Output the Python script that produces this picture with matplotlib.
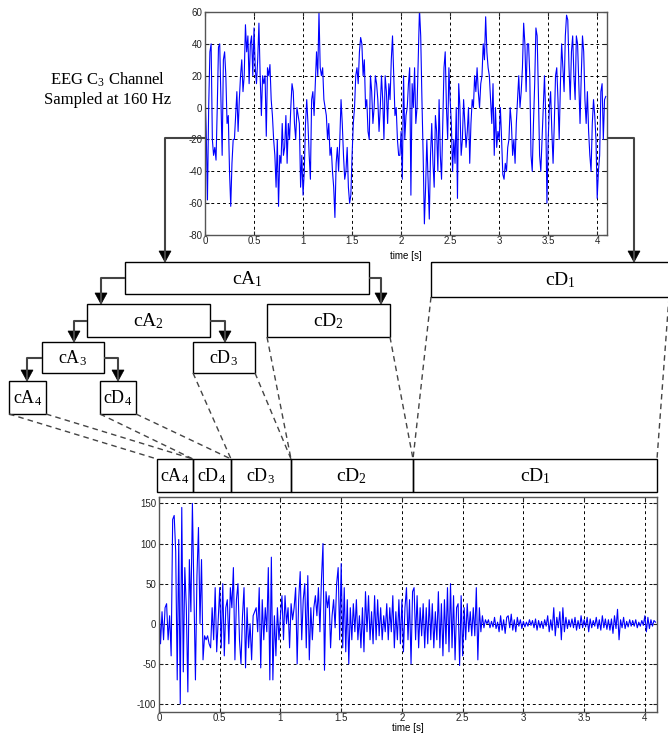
import numpy as np
import matplotlib
matplotlib.use('Agg')
import matplotlib.pyplot as plt
from matplotlib.patches import Rectangle, Polygon

# raw EEG C3 channel (8 values per 0.1 s)
eeg_raw = [
    10, -15, -58, 0, 35, 40, -20, -30,
    -25, -33, 0, 38, 40, 5, -30, 30,
    35, 20, -10, -5, -40, -62, -35, -20,
    -20, -5, 10, -15, 5, 20, 30, 10,
    20, 52, 35, 45, 15, 40, 45, 20,
    50, 25, 15, 30, 53, 20, -5, 20,
    15, 20, -18, 25, 20, 27, 5, -5,
    -20, -30, -50, -20, -62, -30, -35, -10,
    -30, -25, -5, -35, -10, -20, 0, 15,
    10, -10, -20, 0, -5, -10, -50, -30,
    -55, -40, -10, 5, -10, -30, -45, 5,
    10, -5, 15, 35, 20, 60, 25, 20,
    25, 5, 0, -5, -20, -10, -30, -25,
    -40, -50, -69, -35, -25, -40, -20, 5,
    -10, -30, -45, -40, -25, -50, -60, -55,
    -30, -10, 0, 20, 25, 15, 35, 44,
    40, 20, 30, 0, 5, -15, -20, 20,
    10, -10, 0, 20, 15, 5, -15, 0,
    20, 5, -20, 20, 10, -10, 15, 5,
    30, 45, 20, -5, 0, -20, -30, -30,
    -15, -45, 20, -20, -5, 0, 15, 25,
    -55, 15, 0, 25, -10, 0, 30, 62,
    45, 5, -30, -73, -50, -20, -45, -70,
    -30, -10, -35, -50, -5, -15, -40, 5,
    -30, -45, -10, 25, 35, 0, -20, 25,
    5, -10, -40, -20, -35, 0, -57, 15,
    0, -30, -20, 5, -10, -25, -15, 0,
    -35, -10, 5, 0, 20, 10, 25, 10,
    0, 15, 20, 40, 30, 57, 35, 25,
    20, 5, -10, 15, -30, 0, -25, -15,
    -20, 0, -20, -42, -45, -35, -40, -25,
    -20, 0, -10, -30, -20, -35, -10, 5,
    20, 0, 10, 25, 53, 40, 10, 40,
    40, 20, -30, -40, -10, 15, 50, 45,
    10, -30, -40, -20, 0, 20, -5, -60,
    -20, 0, 10, -15, -35, -10, 20, 25,
    5, -20, 15, 40, 25, 10, 45, 58,
    55, 25, 5, 35, 45, 20, 5, 45,
    40, 15, -10, 20, 45, 35, 5, -10,
    10, -15, -30, -40, -10, 5, -5, -20,
    -57, -40, -30, 10, 15, -20, 5, 7,
]

# concatenated wavelet coefficients [cA4 cD4 cD3 cD2 cD1], bottom panel
coeffs = [
    25, -25, 15, -20, 20, 25, -20, 10,
    -40, 130, 135, 90, -70, 105, -100, 145,
    -60, 70, 20, -85, 80, 15, 150, 40,
    -70, 60, 120, 0, 80, -45, -15, -20,
    -15, -25, -30, 20, -20, 45, -35, 5,
    45, -30, 50, -40, 20, 30, -25, 45,
    20, 70, -45, 30, 50, -20, -50, 10,
    45, -55, 20, -30, 0, -45, 10, 15,
    20, -10, 45, -55, 30, -20, 20, -10,
    70, -70, 83, -70, 10, -40, 20, -20,
    10, 35, -20, 35, 0, 20, -30, 25,
    5, 20, 45, -50, 30, 65, -20, 30,
    50, -30, 60, -45, 20, -20, 20, 35,
    10, 45, -10, 55, 100, -58, 40, 20,
    35, -30, 10, 30, -5, 50, 70, -20,
    75, -30, 45, -35, 30, -50, 20, -20,
    25, -10, 30, -20, 10, -30, 20, -35,
    40, -10, 35, -20, 15, -25, 35, -20,
    30, -15, 20, -20, 10, -10, 25, -20,
    20, -10, 35, -30, 15, -20, 30, -25,
    30, -35, 20, 45, -20, 30, -50, 40,
    45, -20, 35, -30, 20, -15, 25, -30,
    20, -25, 30, -20, 25, -30, 15, -20,
    40, -30, 25, -40, 30, -25, 45, -35,
    50, -30, 35, -45, 20, 25, -52, 35,
    -40, 20, -20, 25, -10, 15, -15, 20,
    -15, 45, -45, 20, -10, 10, -5, 5,
    0, 5, -5, 3, -4, 8, -6, 2,
    -10, 10, -8, 5, -12, 8, 10, -5,
    12, -8, 5, -10, 8, -3, 5, -6,
    3, -4, 2, -3, 5, -2, 4, -5,
    6, -8, 4, -5, 3, -6, 5, -3,
    10, -10, 5, -8, 20, -15, 8, -5,
    15, -20, 20, -10, 8, -6, 5, -4,
    6, -5, 8, -8, 4, -6, 10, -5,
    5, -4, 8, -10, 6, -5, 4, -3,
    8, -6, 5, -8, 10, -5, 6, -7,
    5, -8, 6, -12, 10, -6, 18, -20,
    5, -5, 8, -6, 3, -4, 5, -3,
    4, -3, 5, -5, 2, -3, 4, -2,
    10, -10, 8, -6, 5, -3, 4, 2,
]

fs = 80.0
xticks = [0, 0.5, 1, 1.5, 2, 2.5, 3, 3.5, 4]
xticklabels = ['0', '0.5', '1', '1.5', '2', '2.5', '3', '3.5', '4']
yticks_top = [-80, -60, -40, -20, 0, 20, 40, 60]
yticks_bot = [-100, -50, 0, 50, 100, 150]

plt.rcParams['mathtext.fontset'] = 'custom'
plt.rcParams['mathtext.rm'] = 'Liberation Serif'
plt.rcParams['mathtext.it'] = 'Liberation Serif:italic'
plt.rcParams['axes.unicode_minus'] = False

W, H = 668, 734
fig = plt.figure(figsize=(W / 100, H / 100), dpi=100)


def matlab_axes(rect, y, ylim, yticks, label_y):
    ax = fig.add_axes(rect)
    t = np.arange(len(y)) / fs
    ax.plot(t, y, color='#0000ff', lw=0.8)
    ax.set_xlim(0, 4.1)
    ax.set_ylim(*ylim)
    ax.set_xticks(xticks)
    ax.set_xticklabels(xticklabels)
    ax.set_yticks(yticks)
    ax.grid(True, color='black', ls=(0, (3, 3)), lw=0.7)
    ax.tick_params(direction='in', length=3, labelsize=7, colors='#222',
                   pad=2, top=True, right=True)
    ax.tick_params(axis='x', pad=1)
    for lab in ax.get_xticklabels() + ax.get_yticklabels():
        lab.set_family('Liberation Sans')
    for s in ax.spines.values():
        s.set_color('#555')
        s.set_linewidth(1)
    ax.set_xlabel('time [s]', fontsize=7, family='Liberation Sans')
    ax.xaxis.set_label_coords(0.5, label_y)
    return ax


def frac(x0, y0, x1, y1):
    return [x0 / W, 1 - y1 / H, (x1 - x0) / W, (y1 - y0) / H]


ax1 = matlab_axes(frac(205, 12, 607, 235), eeg_raw, (-80, 60), yticks_top,
                  -0.07)
ax2 = matlab_axes(frac(159, 497, 657, 712), coeffs, (-110, 158), yticks_bot,
                  -0.052)

# diagram layer in pixel coordinates
d = fig.add_axes([0, 0, 1, 1])
d.set_xlim(0, W)
d.set_ylim(H, 0)
d.axis('off')
d.patch.set_visible(False)


def box(x0, y0, x1, y1, label=None, size=14):
    d.add_patch(Rectangle((x0, y0), x1 - x0, y1 - y0, fill=False,
                          ec='black', lw=1))
    if label:
        d.text((x0 + x1) / 2, (y0 + y1) / 2 + 1, label, ha='center',
               va='center', fontsize=size, family='Liberation Serif')


def arrow(pts):
    xs, ys = zip(*pts)
    d.plot(xs, ys, color='#444', lw=1.5, solid_capstyle='butt')
    x, y = pts[-1]
    d.add_patch(Polygon([(x - 6, y - 11), (x + 6, y - 11), (x, y)],
                        closed=True, fc='black', ec='black', lw=0.5))


def dash(p, q):
    d.plot([p[0], q[0]], [p[1], q[1]], color='#444', lw=1,
           ls=(0, (4, 3)))


d.text(108, 89, 'EEG C$_3$ Channel\nSampled at 160 Hz', ha='center',
       va='center', fontsize=12, family='Liberation Serif', linespacing=1.25)

arrow([(205, 138), (165, 138), (165, 262)])
arrow([(607, 138), (634, 138), (634, 262)])

box(125, 262, 369, 294, 'cA$_1$')
box(431, 262, 690, 297, 'cD$_1$')
box(87, 304, 210, 337, 'cA$_2$')
box(267, 304, 390, 337, 'cD$_2$')
box(42, 342, 104, 373, 'cA$_3$', 13)
box(193, 342, 255, 373, 'cD$_3$', 13)
box(9, 381, 46, 414, 'cA$_4$', 13)
box(100, 381, 136, 414, 'cD$_4$', 13)

arrow([(125, 278), (101, 278), (101, 304)])
arrow([(369, 278), (381, 278), (381, 304)])
arrow([(87, 321), (74, 321), (74, 342)])
arrow([(210, 321), (225, 321), (225, 342)])
arrow([(42, 358), (27, 358), (27, 381)])
arrow([(104, 358), (118, 358), (118, 381)])

# coefficient band above the lower plot
edges = [157, 193, 231, 291, 413, 657]
labels = ['cA$_4$', 'cD$_4$', 'cD$_3$', 'cD$_2$', 'cD$_1$']
for i, lab in enumerate(labels):
    box(edges[i], 459, edges[i + 1], 492, lab, 13 if i < 3 else 14)

dash((9, 414), (157, 459))
dash((46, 414), (193, 459))
dash((100, 414), (193, 459))
dash((136, 414), (231, 459))
dash((193, 373), (231, 459))
dash((255, 373), (291, 459))
dash((267, 337), (291, 459))
dash((390, 337), (413, 459))
dash((431, 297), (413, 459))
dash((669, 297), (657, 459))

plt.savefig('out.png', dpi=100)
